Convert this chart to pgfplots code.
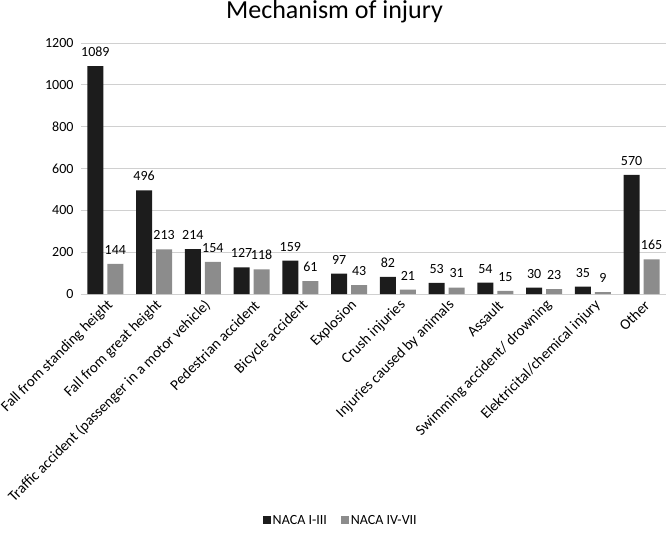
\documentclass[border=0pt]{standalone}
\usepackage{pgfplots}
\pgfplotsset{compat=1.18}
\usepackage{fontspec}
\setmainfont{Carlito}
\definecolor{darkbar}{HTML}{1C1C1C}
\definecolor{graybar}{HTML}{8C8C8C}
\definecolor{gridc}{HTML}{D0D0D0}
\begin{document}
\begin{tikzpicture}[x=1pt,y=1pt]
\begin{axis}[
  scale only axis, width=585pt, height=251pt,
  ymin=0, ymax=1200, ytick={0,200,...,1200},
  xmin=-0.5, xmax=11.5, xtick={0,...,11},
  xticklabels={Fall from standing height, Fall from great height, Traffic accident (passenger in a motor vehicle), Pedestrian accident, Bicycle accident, Explosion, Crush injuries, Injuries caused by animals, Assault, Swimming accident/ drowning, Elektricital/chemical injury, Other},
  ybar=4pt, bar width=16pt,
  axis line style={draw=none},
  tick style={draw=none}, major tick length=0pt,
  ymajorgrids, major grid style={gridc, line width=1pt},
  /pgf/number format/assume math mode=true,
  /pgf/number format/1000 sep={},
  yticklabel style={font=\fontsize{14}{16}\selectfont, xshift=-4pt},
  xticklabel style={font=\fontsize{15}{17}\selectfont, rotate=45, anchor=east, yshift=-10pt, xshift=1pt},
  nodes near coords,
  every node near coord/.append style={font=\fontsize{14}{16}\selectfont, black, yshift=6pt},
  every axis title shift=0pt,
  title={Mechanism of injury},
  title style={font=\fontsize{26}{29}\selectfont, at={(0.4333,1.123)}, anchor=center, yshift=0pt},
  legend style={draw=none, at={(0.444,-0.904)}, anchor=center, legend columns=2,
    font=\fontsize{14}{16}\selectfont,
    /tikz/every even column/.append style={column sep=12pt}},
]
\addplot[fill=darkbar, draw=none, legend image code/.code={\fill[darkbar] (0pt,-3.5pt) rectangle (8pt,4.5pt);}]
  coordinates {(0,1089) (1,496) (2,214) (3,127) (4,159) (5,97) (6,82) (7,53) (8,54) (9,30) (10,35) (11,570)};
\addplot[fill=graybar, draw=none, legend image code/.code={\fill[graybar] (0pt,-3.5pt) rectangle (8pt,4.5pt);}]
  coordinates {(0,144) (1,213) (2,154) (3,118) (4,61) (5,43) (6,21) (7,31) (8,15) (9,23) (10,9) (11,165)};
\legend{NACA I-III, NACA IV-VII}
\end{axis}
\pgfresetboundingbox
\path (-81,-241) rectangle (588,294);
\end{tikzpicture}
\end{document}
